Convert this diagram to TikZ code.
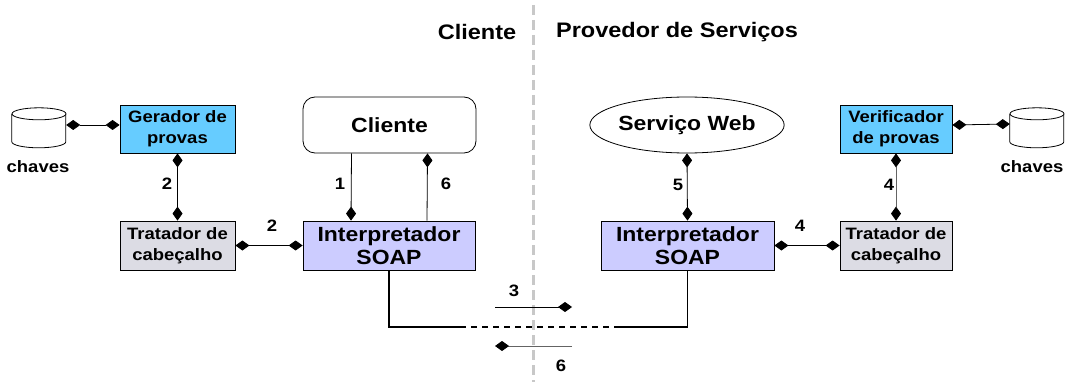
\documentclass[tikz,border=0pt]{standalone}
\usepackage{fontspec}
\setmainfont{Liberation Sans}
\usepackage{graphicx}
\usetikzlibrary{arrows.meta,shapes.geometric,calc}
\definecolor{gerblue}{RGB}{102,204,255}
\definecolor{soapfill}{RGB}{204,204,255}
\definecolor{tratfill}{RGB}{220,220,228}
\definecolor{sepgray}{RGB}{200,200,200}
\definecolor{arrgray}{RGB}{100,100,100}
\newcommand{\hs}[1]{\scalebox{1.12}[1]{#1}}
\begin{document}
\begin{tikzpicture}[x=1pt,y=-1pt,
  boxtext/.style={font=\bfseries\fontsize{16.5}{21}\selectfont},
  smallbox/.style={draw, line width=0.8pt, inner sep=0pt, align=center, boxtext},
  bigbox/.style={draw, line width=0.8pt, inner sep=0pt, align=center, font=\bfseries\fontsize{20.5}{23.5}\selectfont},
  num/.style={font=\bfseries\fontsize{16.5}{20}\selectfont, inner sep=0pt},
  title/.style={font=\bfseries\fontsize{21}{25}\selectfont, inner sep=0pt},
  dtip/.tip={Diamond[length=14pt,width=10pt,color=black]},
  dd/.style={line width=0.8pt, dtip-dtip},
  sa/.style={line width=0.8pt, -dtip},
  conn/.style={line width=1.6pt}
]
\useasboundingbox (0,0) rectangle (1065,382);

% separator
\coordinate (sepTop) at (533,5);
\coordinate (sepBot) at (533,382);
\draw[sepgray, line width=3pt, dash pattern=on 10pt off 5pt] (sepTop) -- (sepBot);

% titles
\node[title] (tCli) at (477,32) {\hs{Cliente}};
\node[title] (tProv) at (677,32) {\hs{Provedor de Serviços}};

% key stores (cylinders)
\node[minimum width=54pt, minimum height=40pt, inner sep=0pt] (keysL) at (39,128) {};
\node[minimum width=54pt, minimum height=40pt, inner sep=0pt] (keysR) at (1037,128) {};
\foreach \k in {keysL,keysR}{
  \draw[line width=0.8pt, fill=white] (\k.north west) ++(0,6) -- ++(0,28) arc[start angle=180,end angle=360,x radius=27pt,y radius=6pt] -- ++(0,-28);
  \draw[line width=0.8pt, fill=white] ($(\k.north)+(0,6)$) ellipse[x radius=27pt, y radius=6pt];
}
\node[boxtext, inner sep=0pt] (chL) at (38,167) {\hs{chaves}};
\node[boxtext, inner sep=0pt] (chR) at (1032,167) {\hs{chaves}};

% left side
\node[smallbox, fill=gerblue, minimum width=115pt, minimum height=48pt] (ger) at (177.5,129) {\hs{Gerador de}\\\hs{provas}};
\node[smallbox, fill=tratfill, minimum width=115pt, minimum height=49pt] (tratL) at (177.5,245.5) {\hs{Tratador de}\\\hs{cabeçalho}};
\node[bigbox, rounded corners=12pt, minimum width=173pt, minimum height=56pt] (cli) at (389.5,125) {\hs{Cliente}};
\node[bigbox, fill=soapfill, minimum width=172pt, minimum height=49pt] (soapL) at (389,245.5) {\hs{Interpretador}\\\hs{SOAP}};

% right side
\node[bigbox, ellipse, inner sep=0pt, minimum width=158pt, minimum height=56pt] (serv) at (687,125) {\hs{Serviço Web}};
\node[bigbox, fill=soapfill, minimum width=173pt, minimum height=49pt] (soapR) at (687.5,245.5) {\hs{Interpretador}\\\hs{SOAP}};
\node[smallbox, fill=gerblue, minimum width=112pt, minimum height=48pt] (ver) at (896,129) {\hs{Verificador}\\\hs{de provas}};
\node[smallbox, fill=tratfill, minimum width=112pt, minimum height=49pt] (tratR) at (896,245.5) {\hs{Tratador de}\\\hs{cabeçalho}};

% connectors
\draw[dd] ($(keysL.east)+(0,-3)$) -- ($(keysL.east -| ger.west)+(0,-3)$);
\draw[dd] (ger.south) -- (tratL.north);
\draw[dd] (tratL.east) -- (soapL.west);
\draw[sa] ([xshift=-38pt]cli.south) -- ([xshift=-38pt]soapL.north);
\draw[sa] ([xshift=38pt]soapL.north) -- ([xshift=38pt]cli.south);
\draw[dd] (serv.south) -- (soapR.north);
\draw[dd] (soapR.east) -- (tratR.west);
\draw[dd, arrgray] (ver.south) -- (tratR.north);
\draw[dd] ($(ver.east)+(0,-4)$) -- ($(keysR.west)+(0,-4)$);

% bottom message line
\coordinate (bl) at (389,327);
\coordinate (d1) at (460,327);
\coordinate (d2) at (618,327);
\draw[conn] (soapL.south) -- (soapL.south |- bl) -- (d1);
\draw[conn, dash pattern=on 6pt off 5pt] (d1) -- (d2);
\draw[conn] (d2) -- (soapR.south |- d2) -- (soapR.south);

\coordinate (a3s) at (495,307);
\coordinate (a3e) at (572,307);
\coordinate (a6s) at (572,346);
\coordinate (a6e) at (495,346);
\draw[sa] (a3s) -- (a3e);
\draw[sa, arrgray] (a6s) -- (a6e);

% labels
\node[num] (n2a) at (167,184) {\hs{2}};
\node[num] (n2b) at (272,226) {\hs{2}};
\node[num] (n1) at (340,184) {\hs{1}};
\node[num] (n6a) at (446,184) {\hs{6}};
\node[num] (n5) at (678,185) {\hs{5}};
\node[num] (n4a) at (800,226) {\hs{4}};
\node[num] (n4b) at (889,185) {\hs{4}};
\node[num] (n3) at (514,291) {\hs{3}};
\node[num] (n6b) at (561,366) {\hs{6}};
\end{tikzpicture}
\end{document}
